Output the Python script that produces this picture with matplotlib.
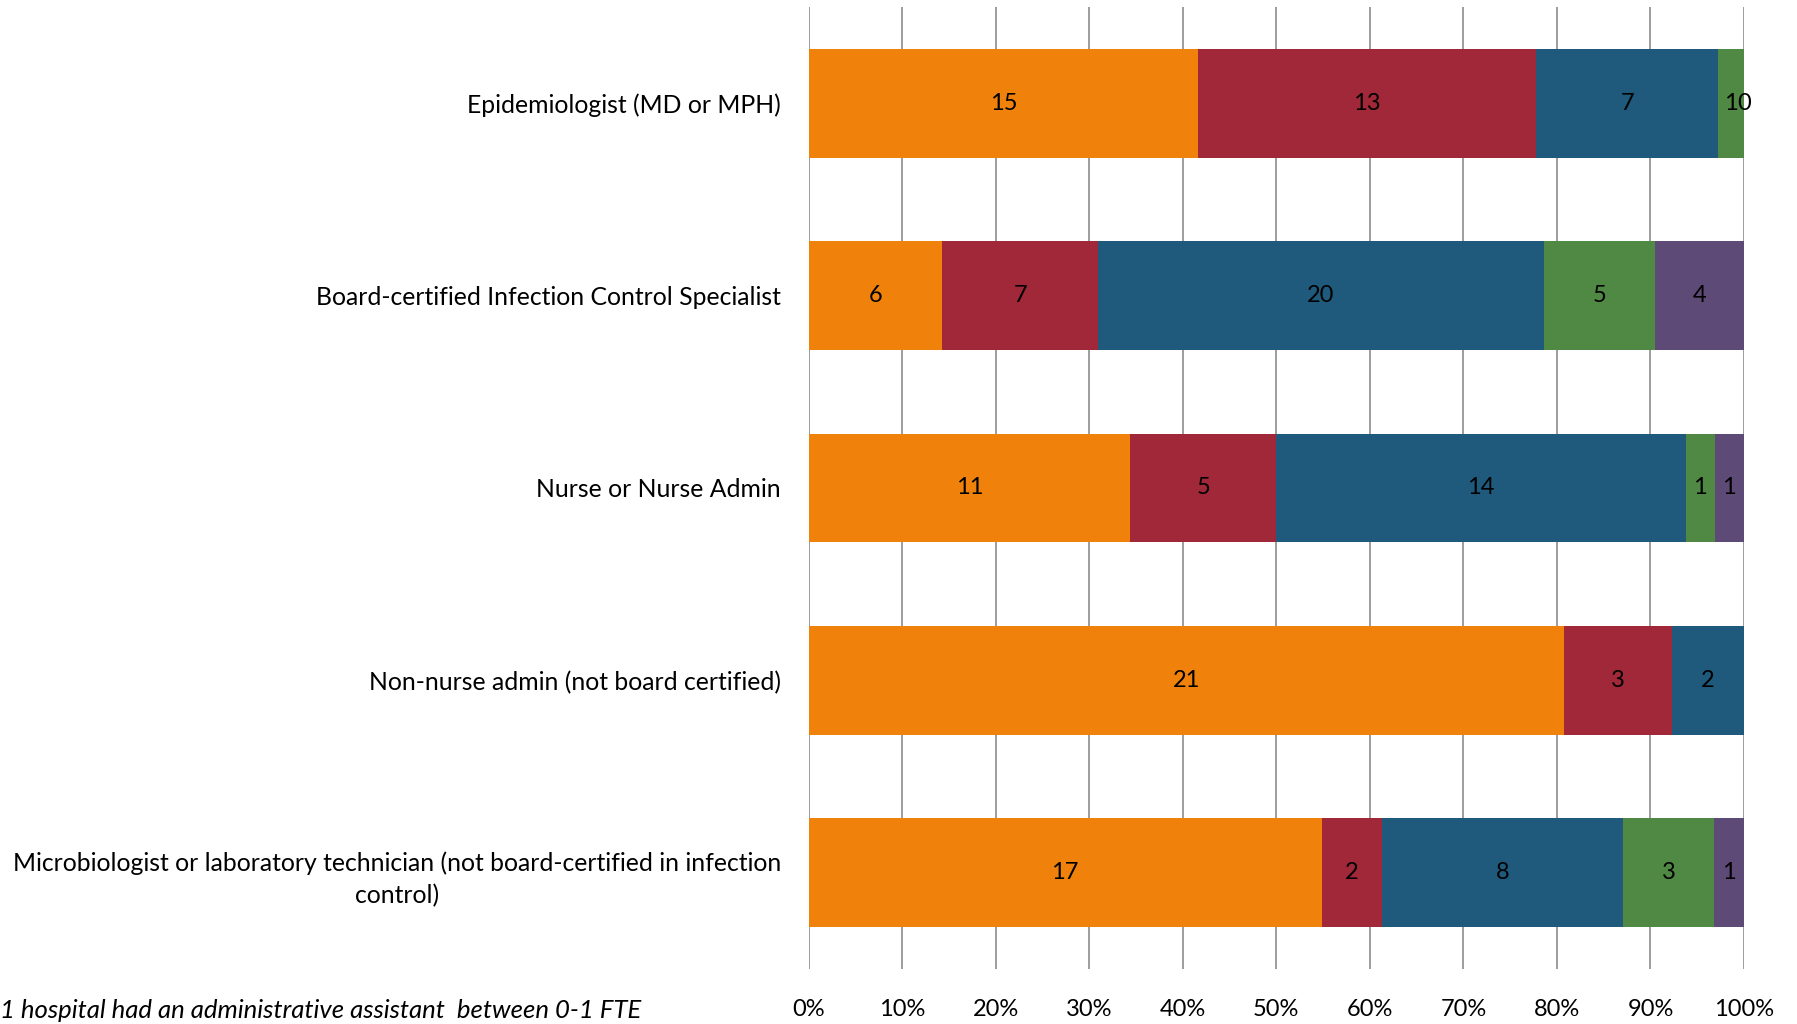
import numpy as np
import matplotlib.pyplot as plt

plt.rcParams['font.family'] = ['Lato', 'DejaVu Sans']

categories = ["Epidemiologist (MD or MPH)",
              "Board-certified Infection Control Specialist",
              "Nurse or Nurse Admin",
              "Non-nurse admin (not board certified)",
              "Microbiologist or laboratory technician (not board-certified in infection\ncontrol)"]
# counts per series (nan = no value reported)
s1 = [15, 6, 11, 21, 17]
s2 = [13, 7, 5, 3, 2]
s3 = [7, 20, 14, 2, 8]
s4 = [1, 5, 1, np.nan, 3]
s5 = [0, 4, 1, np.nan, 1]
series = [s1, s2, s3, s4, s5]
colors = ['#F0820C', '#A12839', '#1F5A7C', '#4F8943', '#5E4A77']
ticks = np.arange(0, 1.01, 0.1)
tick_labels = ["0%", "10%", "20%", "30%", "40%", "50%", "60%", "70%", "80%", "90%", "100%"]
footnote = "1 hospital had an administrative assistant  between 0-1 FTE"

data = np.array(series, dtype=float)
totals = np.nansum(data, axis=0)
shares = np.nan_to_num(data) / totals

fig = plt.figure(figsize=(17.97, 10.24), dpi=100)
ax = fig.add_axes([0.450, 0.054, 0.5205, 0.939])

y = np.arange(len(categories))
left = np.zeros(len(categories))
for i in range(len(series)):
    ax.barh(y, shares[i], left=left, height=0.565, color=colors[i], zorder=2)
    for j in range(len(categories)):
        if not np.isnan(data[i, j]):
            ax.text(left[j] + shares[i, j] / 2, y[j], "%d" % data[i, j],
                    ha='center', va='center', fontsize=17, color='black', zorder=3)
    left = left + shares[i]

ax.set_xlim(0, 1)
ax.set_ylim(len(categories) - 0.5, -0.5)
ax.set_xticks(ticks)
ax.set_xticklabels(tick_labels, fontsize=17)
ax.set_yticks(y)
ax.set_yticklabels(categories, fontsize=17.8, ha='right', linespacing=1.5)
ax.tick_params(axis='both', length=0)
ax.tick_params(axis='x', pad=22)
ax.tick_params(axis='y', pad=20)
for lbl in ax.get_yticklabels():
    lbl.set_multialignment('center')
ax.xaxis.grid(True, color='#8C8C8C', linewidth=1.2, zorder=0)
for s in ax.spines.values():
    s.set_visible(False)

fig.text(0.0, 0.013, footnote, fontsize=18.5, style='italic', ha='left', va='center')

fig.savefig("out.png", dpi=100)
